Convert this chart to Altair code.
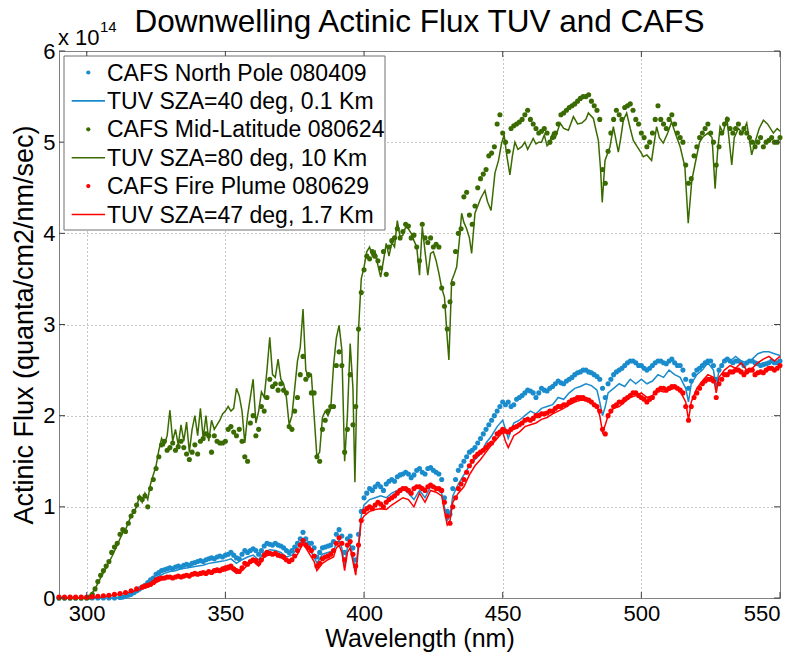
import altair as alt
import pandas as pd

# ---------------- data (flux in units of 1e14 quanta/cm2/nm/sec) ----------------
LABELS = [
    "CAFS North Pole 080409",
    "TUV SZA=40 deg, 0.1 Km",
    "CAFS Mid-Latitude 080624",
    "TUV SZA=80 deg, 10 Km",
    "CAFS Fire Plume 080629",
    "TUV SZA=47 deg, 1.7 Km",
]
KINDS = ["dot", "line", "dot", "line", "dot", "line"]
COLORS = ["#1a8ccd", "#1a8ccd", "#3a6b00", "#3a6b00", "#ff0000", "#ff0000"]

tuv80 = [(290,0.0),(295,0.0),(299,0.0),(301,0.02),(303,0.1),(305,0.22),(307,0.33),(309,0.45),(311,0.58),
 (313,0.72),(314,0.75),(316,0.9),(318,1.0),(319,1.12),(320,1.05),(321,1.15),(322,1.08),(323,1.25),(325,1.45),
 (326,1.62),(327,1.75),(328,1.68),(329,1.78),(330,2.06),(331,1.72),(332,1.85),(333,1.68),(334,1.9),(335,1.72),
 (336,1.93),(337,1.6),(338,1.85),(339,2.0),(340,1.78),(341,2.08),(342,1.75),(343,2.0),(344,1.72),(345,1.95),
 (346,1.85),(348,1.95),(349,2.02),(350,2.05),(351,2.1),(352,2.05),(353,2.08),(354,2.3),(355,2.22),(356,2.05),
 (357,1.7),(358,2.0),(360,2.4),(361,1.92),(362,2.05),(363,2.26),(364,2.2),(365,2.5),(366,2.86),(367,2.45),
 (368,2.42),(369,2.62),(370,2.4),(371,2.35),(372,2.2),(373,1.9),(374,2.0),(375,2.3),(376,2.6),(377,2.75),
 (378,3.17),(379,2.5),(380,2.42),(381,2.45),(382,2.0),(383,1.55),(384,1.6),(385,1.98),(386,2.05),(387,2.0),
 (388,2.08),(389,2.55),(390,2.85),(391,2.99),(392,2.72),(393,1.5),(394,2.0),(395,2.79),(396,2.3),(396.7,1.27),
 (397.5,2.4),(398,2.94),(399,3.5),(400,3.63),(401,3.8),(402,3.85),(403,3.75),(404,3.8),(405,3.65),(406,3.52),
 (407,3.7),(408,3.89),(409,3.75),(410,3.9),(411,3.85),(412,4.14),(413,3.96),(414,3.98),(415,4.07),(416,4.05),
 (417,4.0),(418,3.92),(419,3.85),(420,3.54),(421,4.07),(422,3.8),(423,3.54),(424,3.78),(425,3.8),(426,3.7),
 (427,3.56),(428,3.4),(429,3.3),(430,2.85),(430.6,2.61),(431.6,3.48),(432.5,3.55),(433.4,3.63),(434.3,3.9),
 (435.2,4.22),(436,4.12),(437,4.05),(438,3.95),(438.8,3.78),(440,4.22),(441,4.3),(442,4.38),(443.6,4.47),
 (444.5,4.35),(445.8,4.25),(447.2,4.66),(448.5,4.8),(449.6,4.99),(450.5,5.08),(451.5,4.85),(452.6,4.64),
 (453.5,4.85),(454.4,5.0),(455.5,4.92),(456.9,4.95),(458,5.0),(459,4.92),(460,4.98),(461,5.04),(462,4.98),
 (463,5.0),(464,5.0),(465,5.08),(466,4.96),(467,4.99),(468,5.1),(469,5.05),(470.7,5.21),(472,5.15),
 (473.7,5.13),(475.5,5.28),(477,5.2),(478.5,5.21),(480,5.25),(480.9,5.32),(482.7,5.26),(483.5,5.15),
 (484.5,5.02),(485.3,4.7),(485.9,4.34),(486.9,4.8),(488.7,4.95),(489.9,5.17),(491,5.0),(491.7,4.89),
 (492.6,5.05),(493.5,5.24),(494.7,5.32),(496,5.15),(497.1,5.02),(498.5,4.95),(500,4.88),(500.7,4.84),
 (502,4.86),(503.7,4.8),(505.5,5.17),(506.5,5.05),(507.9,4.99),(509.5,5.1),(510.9,5.22),(512.7,5.06),
 (514,4.95),(515.7,4.73),(516.9,4.11),(518.2,4.58),(519.9,4.84),(521,5.0),(522.3,5.06),(524,5.1),
 (525.5,5.05),(526.6,4.49),(527.5,4.9),(528.4,5.17),(529.5,5.1),(530.8,5.28),(532.6,4.75),(533.5,5.05),
 (535,5.15),(536.5,5.1),(538,5.21),(539.8,4.86),(541,5.0),(542.5,5.15),(544,5.24),(545.5,5.2),(547.6,5.1),
 (549,5.15),(550,5.12)]

cafs_mid = [(290,0.0),(292,0.0),(294,0.0),(296,0.0),(298,0.0),(300,0.0),(301,0.01),(302,0.04),(303,0.1),
 (304,0.18),(305,0.25),(306,0.3),(307,0.35),(308,0.4),(309,0.5),(310,0.56),(311,0.6),(312,0.7),(313,0.75),
 (314,0.73),(315,0.82),(316,0.9),(317,0.95),(318,1.02),(319,1.1),(320,1.08),(321,1.12),(322,1.0),(323,1.2),
 (324,1.3),(325,1.42),(326,1.55),(327,1.68),(328,1.72),(329,1.62),(330,1.65),(331,1.7),(332,1.62),(333,1.66),
 (334,1.72),(335,1.65),(336,1.58),(337,1.52),(338,1.6),(339,1.68),(340,1.58),(341,1.72),(342,1.75),(343,1.8),
 (344,1.78),(345,1.6),(346,1.78),(347,1.72),(348,1.7),(349,1.7),(350,1.72),(351,1.85),(352,1.88),(353,1.82),
 (354,1.78),(355,1.85),(356,1.72),(357,1.55),(358,1.5),(359,1.92),(360,2.0),(361,1.78),(362,1.85),(363,2.1),
 (364,2.05),(365,2.2),(366,2.4),(367,2.32),(368,2.35),(369,2.28),(370,2.35),(371,2.28),(372,2.25),(373,1.88),
 (374,1.85),(375,2.05),(376,2.2),(377,2.45),(378,2.65),(379,2.4),(380,2.45),(381,2.25),(382,2.25),(383,1.55),
 (384,1.5),(385,1.85),(386,1.95),(387,2.05),(388,2.1),(389,2.1),(390,2.55),(391,2.7),(392,2.55),(393,1.6),
 (394,1.85),(395,2.45),(396,1.9),(397,2.1),(398,2.95),(399,3.35),(400,3.6),(401,3.75),(402,3.72),(403,3.8),
 (404,3.75),(405,3.7),(406,3.62),(407,3.8),(408,3.55),(409,3.85),(410,3.92),(411,3.95),(412,4.05),(413,3.95),
 (414,4.02),(415,4.1),(416,4.08),(417,3.95),(418,3.98),(419,3.85),(420,3.7),(421,4.1),(422,3.95),(423,3.9),
 (424,3.95),(425,3.85),(426,3.88),(427,3.85),(428,3.4),(429,3.2),(430,2.95),(431,3.25),(432,3.45),(433,3.8),
 (434,4.0),(435,4.05),(436,4.4),(437,4.45),(438,4.2),(439,4.1),(440,4.3),(441,4.5),(442,4.6),(443,4.65),
 (444,4.7),(445,4.85),(446,4.88),(447,4.95),(448,5.2),(449,5.3),(450,5.1),(451,5.0),(452,4.9),(453,5.15),
 (454,5.18),(455,5.2),(456,5.22),(457,5.25),(458,5.3),(459,5.35),(460,5.25),(461,5.2),(462,5.15),(463,5.1),
 (464,5.12),(465,5.15),(466,5.1),(467,5.0),(468,5.05),(469,5.1),(470,5.2),(471,5.3),(472,5.32),(473,5.35),
 (474,5.38),(475,5.4),(476,5.42),(477,5.45),(478,5.48),(479,5.5),(480,5.5),(481,5.52),(482,5.45),(483,5.4),
 (484,5.35),(485,5.25),(486,4.7),(487,4.55),(488,4.9),(489,5.1),(490,5.25),(491,5.35),(492,5.3),(493,5.25),
 (494,5.38),(495,5.4),(496,5.42),(497,5.35),(498,5.25),(499,5.2),(500,5.1),(501,5.05),(502,4.95),(503,5.0),
 (504,5.1),(505,5.25),(506,5.4),(507,5.25),(508,5.2),(509,5.15),(510,5.25),(511,5.3),(512,5.2),(513,5.1),
 (514,5.05),(515,5.0),(516,4.75),(517,4.55),(518,4.6),(519,4.85),(520,4.95),(521,5.05),(522,5.1),(523,5.15),
 (524,5.2),(525,5.1),(526,5.0),(527,4.75),(528,4.95),(529,5.1),(530,5.2),(531,5.25),(532,5.15),(533,5.1),
 (534,5.15),(535,5.2),(536,5.1),(537,5.15),(538,5.1),(539,5.05),(540,5.0),(541,4.95),(542,5.0),(543,5.05),
 (544,4.95),(545,5.0),(546,5.02),(547,5.05),(548,5.0),(549,5.0),(550,5.05)]

cafs_np = [(290,0.0),(292,0.0),(294,0.0),(296,0.0),(298,0.0),(300,0.0),(302,0.0),(304,0.0),(306,0.0),
 (308,0.0),(310,0.0),(312,0.005),(313,0.01),(314,0.02),(315,0.03),(316,0.04),(317,0.06),(318,0.08),(319,0.1),
 (320,0.12),(321,0.14),(322,0.17),(323,0.2),(324,0.22),(325,0.26),(326,0.28),(327,0.3),(328,0.31),(329,0.32),
 (330,0.33),(331,0.32),(332,0.34),(333,0.35),(334,0.34),(335,0.36),(336,0.37),(337,0.36),(338,0.38),(339,0.39),
 (340,0.4),(341,0.41),(342,0.4),(343,0.42),(344,0.43),(345,0.44),(346,0.43),(347,0.45),(348,0.46),(349,0.45),
 (350,0.47),(351,0.48),(352,0.5),(353,0.47),(354,0.44),(355,0.43),(356,0.48),(357,0.52),(358,0.5),(359,0.52),
 (360,0.54),(361,0.52),(362,0.48),(363,0.52),(364,0.57),(365,0.6),(366,0.59),(367,0.58),(368,0.6),(369,0.58),
 (370,0.57),(371,0.55),(372,0.52),(373,0.5),(374,0.52),(375,0.56),(376,0.6),(377,0.65),(378,0.72),(379,0.65),
 (380,0.6),(381,0.6),(382,0.55),(383,0.45),(384,0.5),(385,0.55),(386,0.56),(387,0.57),(388,0.58),(389,0.62),
 (390,0.7),(391,0.75),(392,0.68),(393,0.5),(394,0.65),(395,0.68),(396,0.55),(397,0.42),(398,0.7),(399,0.95),
 (400,1.1),(401,1.15),(402,1.2),(403,1.18),(404,1.22),(405,1.25),(406,1.22),(407,1.18),(408,1.25),(409,1.28),
 (410,1.3),(411,1.28),(412,1.33),(413,1.35),(414,1.36),(415,1.38),(416,1.36),(417,1.32),(418,1.35),(419,1.4),
 (420,1.42),(421,1.38),(422,1.36),(423,1.42),(424,1.43),(425,1.4),(426,1.38),(427,1.36),(428,1.3),(429,1.1),
 (430,0.95),(431,0.92),(432,1.2),(433,1.3),(434,1.4),(435,1.45),(436,1.5),(437,1.55),(438,1.6),(439,1.62),
 (440,1.65),(441,1.7),(442,1.75),(443,1.8),(444,1.85),(445,1.9),(446,1.95),(447,2.0),(448,2.05),(449,2.1),
 (450,2.15),(451,2.12),(452,2.15),(453,2.1),(454,2.12),(455,2.18),(456,2.2),(457,2.22),(458,2.25),(459,2.28),
 (460,2.27),(461,2.25),(462,2.2),(463,2.25),(464,2.3),(465,2.28),(466,2.27),(467,2.3),(468,2.32),(469,2.35),
 (470,2.38),(471,2.36),(472,2.35),(473,2.38),(474,2.4),(475,2.42),(476,2.45),(477,2.47),(478,2.48),(479,2.5),
 (480,2.5),(481,2.48),(482,2.47),(483,2.45),(484,2.43),(485,2.4),(486,2.3),(487,2.2),(488,2.35),(489,2.4),
 (490,2.45),(491,2.48),(492,2.5),(493,2.52),(494,2.55),(495,2.58),(496,2.6),(497,2.6),(498,2.58),(499,2.55),
 (500,2.55),(501,2.52),(502,2.5),(503,2.52),(504,2.55),(505,2.58),(506,2.6),(507,2.6),(508,2.58),(509,2.57),
 (510,2.6),(511,2.62),(512,2.58),(513,2.55),(514,2.55),(515,2.5),(516,2.4),(517,2.3),(518,2.38),(519,2.45),
 (520,2.5),(521,2.52),(522,2.55),(523,2.58),(524,2.6),(525,2.6),(526,2.55),(527,2.4),(528,2.5),(529,2.55),
 (530,2.6),(531,2.62),(532,2.6),(533,2.58),(534,2.6),(535,2.6),(536,2.58),(537,2.55),(538,2.58),(539,2.6),
 (540,2.6),(541,2.58),(542,2.57),(543,2.55),(544,2.56),(545,2.57),(546,2.58),(547,2.6),(548,2.58),(549,2.58),
 (550,2.6)]

tuv40 = [(290,0.0),(300,0.0),(310,0.0),(313,0.01),(316,0.03),(318,0.06),(320,0.1),(322,0.14),(324,0.19),
 (326,0.24),(328,0.27),(330,0.29),(332,0.3),(334,0.32),(336,0.33),(338,0.34),(340,0.35),(342,0.36),(344,0.38),
 (346,0.39),(348,0.4),(350,0.41),(352,0.43),(354,0.38),(356,0.42),(358,0.45),(360,0.47),(362,0.42),(364,0.5),
 (366,0.53),(368,0.52),(370,0.5),(372,0.45),(374,0.47),(376,0.55),(378,0.65),(380,0.55),(382,0.45),(383,0.38),
 (385,0.48),(387,0.5),(389,0.52),(390,0.6),(391,0.63),(392,0.55),(393,0.35),(394,0.55),(395,0.6),(396,0.45),
 (397,0.3),(398,0.6),(399,0.9),(400,1.02),(402,1.08),(404,1.1),(406,1.12),(408,1.1),(410,1.15),(412,1.18),
 (414,1.2),(416,1.15),(418,1.08),(420,1.18),(422,1.1),(424,1.22),(426,1.2),(428,1.15),(429,1.0),(430,0.85),
 (431,0.9),(432,1.12),(434,1.25),(436,1.35),(438,1.45),(440,1.52),(442,1.58),(444,1.7),(446,1.78),(448,1.88),
 (450,1.95),(451,1.85),(452,1.75),(454,1.92),(456,1.95),(458,2.0),(460,2.05),(462,2.02),(464,2.08),(466,2.1),
 (468,2.12),(470,2.2),(472,2.18),(474,2.25),(476,2.3),(478,2.32),(480,2.35),(482,2.33),(484,2.28),(485,2.15),
 (486,2.0),(487,2.1),(488,2.25),(490,2.3),(492,2.35),(494,2.32),(496,2.4),(498,2.35),(500,2.4),(502,2.35),
 (504,2.38),(506,2.45),(508,2.42),(510,2.5),(512,2.45),(514,2.42),(516,2.3),(517,2.15),(518,2.35),(520,2.45),
 (522,2.5),(524,2.58),(526,2.5),(527,2.3),(528,2.5),(530,2.62),(532,2.6),(534,2.65),(536,2.6),(538,2.58),
 (540,2.62),(542,2.68),(544,2.7),(546,2.7),(548,2.68),(550,2.66)]

cafs_fire = [(290,0.01),(292,0.01),(294,0.01),(296,0.01),(298,0.01),(300,0.01),(302,0.015),(304,0.02),
 (306,0.025),(308,0.03),(310,0.04),(312,0.05),(314,0.06),(316,0.08),(318,0.1),(320,0.12),(321,0.13),(322,0.14),
 (323,0.15),(324,0.17),(325,0.2),(326,0.21),(327,0.22),(328,0.22),(329,0.23),(330,0.23),(331,0.22),(332,0.23),
 (333,0.24),(334,0.23),(335,0.24),(336,0.25),(337,0.24),(338,0.26),(339,0.27),(340,0.26),(341,0.27),(342,0.28),
 (343,0.27),(344,0.29),(345,0.28),(346,0.3),(347,0.31),(348,0.3),(349,0.32),(350,0.33),(351,0.34),(352,0.35),
 (353,0.32),(354,0.3),(355,0.29),(356,0.33),(357,0.38),(358,0.37),(359,0.4),(360,0.42),(361,0.41),(362,0.38),
 (363,0.42),(364,0.47),(365,0.5),(366,0.49),(367,0.48),(368,0.49),(369,0.47),(370,0.46),(371,0.45),(372,0.42),
 (373,0.4),(374,0.42),(375,0.46),(376,0.52),(377,0.58),(378,0.63),(379,0.58),(380,0.55),(381,0.52),(382,0.46),
 (383,0.35),(384,0.38),(385,0.43),(386,0.45),(387,0.46),(388,0.48),(389,0.52),(390,0.6),(391,0.66),(392,0.6),
 (393,0.42),(394,0.58),(395,0.62),(396,0.48),(397,0.35),(398,0.58),(399,0.85),(400,0.95),(401,0.98),(402,1.0),
 (403,0.98),(404,1.02),(405,1.05),(406,1.03),(407,1.0),(408,1.05),(409,1.08),(410,1.1),(411,1.12),(412,1.15),
 (413,1.18),(414,1.2),(415,1.2),(416,1.18),(417,1.15),(418,1.2),(419,1.22),(420,1.22),(421,1.2),(422,1.18),
 (423,1.22),(424,1.24),(425,1.22),(426,1.2),(427,1.2),(428,1.18),(429,1.05),(430,0.9),(431,0.82),(432,1.0),
 (433,1.1),(434,1.2),(435,1.25),(436,1.3),(437,1.38),(438,1.45),(439,1.5),(440,1.55),(441,1.58),(442,1.6),
 (443,1.62),(444,1.65),(445,1.68),(446,1.7),(447,1.75),(448,1.8),(449,1.82),(450,1.85),(451,1.83),(452,1.82),
 (453,1.85),(454,1.87),(455,1.88),(456,1.9),(457,1.92),(458,1.95),(459,1.96),(460,1.95),(461,1.97),(462,2.0),
 (463,2.0),(464,2.02),(465,2.02),(466,2.03),(467,2.05),(468,2.05),(469,2.08),(470,2.1),(471,2.1),(472,2.12),
 (473,2.12),(474,2.15),(475,2.17),(476,2.18),(477,2.2),(478,2.2),(479,2.2),(480,2.18),(481,2.17),(482,2.15),
 (483,2.12),(484,2.1),(485,2.05),(486,1.85),(487,1.8),(488,2.0),(489,2.05),(490,2.1),(491,2.12),(492,2.15),
 (493,2.15),(494,2.18),(495,2.2),(496,2.22),(497,2.25),(498,2.25),(499,2.22),(500,2.2),(501,2.18),(502,2.15),
 (503,2.18),(504,2.2),(505,2.25),(506,2.28),(507,2.3),(508,2.3),(509,2.28),(510,2.3),(511,2.32),(512,2.32),
 (513,2.3),(514,2.28),(515,2.25),(516,2.1),(517,1.95),(518,2.1),(519,2.2),(520,2.25),(521,2.3),(522,2.35),
 (523,2.38),(524,2.4),(525,2.4),(526,2.38),(527,2.2),(528,2.35),(529,2.4),(530,2.45),(531,2.45),(532,2.48),
 (533,2.48),(534,2.5),(535,2.5),(536,2.48),(537,2.45),(538,2.48),(539,2.5),(540,2.5),(541,2.45),(542,2.47),
 (543,2.48),(544,2.47),(545,2.5),(546,2.52),(547,2.52),(548,2.5),(549,2.52),(550,2.55)]

tuv47 = [(290,0.0),(300,0.0),(305,0.01),(310,0.03),(315,0.06),(320,0.1),(323,0.13),(325,0.17),(327,0.2),
 (330,0.22),(333,0.23),(336,0.24),(340,0.25),(343,0.26),(346,0.28),(350,0.3),(352,0.32),(354,0.27),(356,0.3),
 (358,0.36),(360,0.4),(362,0.35),(364,0.45),(366,0.48),(368,0.47),(370,0.45),(372,0.4),(374,0.42),(376,0.48),
 (378,0.6),(380,0.5),(382,0.4),(383,0.3),(385,0.38),(387,0.42),(389,0.45),(390,0.55),(391,0.58),(392,0.5),
 (393,0.3),(394,0.5),(395,0.55),(396,0.4),(397,0.25),(398,0.55),(399,0.85),(400,0.9),(402,0.95),(404,0.97),
 (406,0.98),(408,0.97),(410,1.02),(412,1.06),(414,1.1),(416,1.08),(418,1.0),(420,1.15),(422,1.05),(424,1.18),
 (426,1.16),(428,1.12),(429,0.95),(430,0.8),(431,0.85),(432,1.05),(434,1.15),(436,1.22),(438,1.35),(440,1.45),
 (442,1.52),(444,1.6),(446,1.68),(448,1.75),(450,1.82),(451,1.72),(452,1.65),(454,1.78),(456,1.82),(458,1.88),
 (460,1.9),(462,1.92),(464,1.96),(466,1.98),(468,2.02),(470,2.05),(472,2.08),(474,2.12),(476,2.15),(478,2.17),
 (480,2.17),(482,2.14),(484,2.1),(485,2.0),(486,1.82),(487,1.9),(488,2.0),(490,2.08),(492,2.1),(494,2.15),
 (496,2.2),(498,2.22),(500,2.25),(502,2.2),(504,2.22),(506,2.28),(508,2.26),(510,2.28),(512,2.3),(514,2.27),
 (516,2.15),(517,1.95),(518,2.15),(520,2.3),(522,2.38),(524,2.45),(526,2.42),(527,2.25),(528,2.42),(530,2.5),
 (532,2.55),(534,2.52),(536,2.58),(538,2.5),(540,2.52),(542,2.58),(544,2.62),(546,2.65),(548,2.6),(550,2.65)]

X_TICKS = [300, 350, 400, 450, 500, 550]
Y_TICKS = [0, 1, 2, 3, 4, 5, 6]

# ---------------- chart ----------------
W, H = 721, 547
FONT = "Liberation Sans"

def frame(pairs, name):
    return pd.DataFrame({"wl": [p[0] for p in pairs], "flux": [p[1] for p in pairs], "series": name})

xenc = alt.X("wl:Q", scale=alt.Scale(domain=[290, 550], nice=False, zero=False),
             axis=alt.Axis(values=X_TICKS, title="Wavelength (nm)", grid=True, ticks=False, domain=False,
                           labelPadding=5, titlePadding=2, titleFontSize=25))
yenc = alt.Y("flux:Q", scale=alt.Scale(domain=[0, 6], nice=False),
             axis=alt.Axis(values=Y_TICKS, format="d", title="Actinic Flux (quanta/cm2/nm/sec)", grid=True,
                           ticks=False, domain=False, labelPadding=4, titlePadding=4, titleFontSize=27))
cenc = alt.Color("series:N", scale=alt.Scale(domain=LABELS, range=COLORS), legend=None)

def pts(pairs, name):
    return alt.Chart(frame(pairs, name)).mark_circle(size=26, opacity=1).encode(x=xenc, y=yenc, color=cenc)

def line(pairs, name):
    return alt.Chart(frame(pairs, name)).mark_line(strokeWidth=1.5).encode(x=xenc, y=yenc, color=cenc)

# inward tick marks on all four sides (MATLAB box style)
tick_col = "#404040"
xt = pd.DataFrame({"t": X_TICKS})
yt = pd.DataFrame({"t": Y_TICKS})
ticks = [
    alt.Chart(xt).mark_rule(color=tick_col).encode(x="t:Q", y=alt.value(H - 6), y2=alt.value(H)),
    alt.Chart(xt).mark_rule(color=tick_col).encode(x="t:Q", y=alt.value(0), y2=alt.value(6)),
    alt.Chart(yt).mark_rule(color=tick_col).encode(y="t:Q", x=alt.value(0), x2=alt.value(6)),
    alt.Chart(yt).mark_rule(color=tick_col).encode(y="t:Q", x=alt.value(W - 6), x2=alt.value(W)),
]

# exponent label "x 10^14"
exp_base = alt.Chart(pd.DataFrame({"s": ["x 10"]})).mark_text(
    font=FONT, fontSize=22, align="left", baseline="alphabetic", color="black"
).encode(text="s:N", x=alt.value(-1), y=alt.value(-6))
exp_pow = alt.Chart(pd.DataFrame({"s": ["14"]})).mark_text(
    font=FONT, fontSize=15, align="left", baseline="alphabetic", color="black"
).encode(text="s:N", x=alt.value(41), y=alt.value(-19))

# legend box (MATLAB style, upper left)
LEG_X0, LEG_X1, LEG_Y0, LEG_Y1 = 5, 326, 5, 179
ROW0, ROW_STEP = 21.5, 28.4
legend_layers = [
    alt.Chart(pd.DataFrame({"k": [0]})).mark_rect(fill="white", stroke="#707070", strokeWidth=1).encode(
        x=alt.value(LEG_X0), x2=alt.value(LEG_X1), y=alt.value(LEG_Y0), y2=alt.value(LEG_Y1))
]
for i, (lab, kind, col) in enumerate(zip(LABELS, KINDS, COLORS)):
    cy = ROW0 + i * ROW_STEP
    d = pd.DataFrame({"s": [lab]})
    if kind == "dot":
        legend_layers.append(alt.Chart(d).mark_circle(size=18, opacity=1, color=col).encode(
            x=alt.value(29.3), y=alt.value(cy)))
    else:
        legend_layers.append(alt.Chart(d).mark_rule(strokeWidth=1.6, color=col).encode(
            x=alt.value(12.7), x2=alt.value(46), y=alt.value(cy)))
    legend_layers.append(alt.Chart(d).mark_text(
        font=FONT, fontSize=23, align="left", baseline="alphabetic", color="black"
    ).encode(text="s:N", x=alt.value(48), y=alt.value(cy + 8)))

chart = alt.layer(
    pts(cafs_np, LABELS[0]), line(tuv40, LABELS[1]),
    pts(cafs_mid, LABELS[2]), line(tuv80, LABELS[3]),
    pts(cafs_fire, LABELS[4]), line(tuv47, LABELS[5]),
    *ticks, exp_base, exp_pow, *legend_layers,
).properties(
    width=W, height=H,
    title=alt.TitleParams("Downwelling Actinic Flux TUV and CAFS", font=FONT, fontSize=31.5,
                          fontWeight="normal", color="black", anchor="middle", frame="group",
                          offset=4, dy=22),
    autosize=alt.AutoSizeParams(type="none"),
    padding={"left": 59, "top": 51, "right": 22, "bottom": 56},
).configure(
    font=FONT, background="white"
).configure_view(
    stroke="#7f7f7f", strokeWidth=1
).configure_axis(
    labelFont=FONT, labelFontSize=22, labelColor="black",
    titleFont=FONT, titleFontSize=26, titleFontWeight="normal", titleColor="black",
    gridColor="#8c8c8c", gridDash=[1, 3], gridWidth=1, gridOpacity=1,
)

chart.save("out.html", embed_options={"renderer": "svg", "actions": False})
